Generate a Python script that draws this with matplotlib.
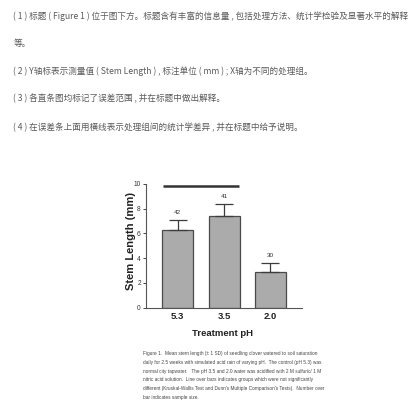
import matplotlib
matplotlib.use("Agg")
import matplotlib.pyplot as plt
from matplotlib import font_manager

# ---------------- data ----------------
groups = ["5.3", "3.5", "2.0"]
means = [6.26, 7.43, 2.90]
sds = [0.83, 0.95, 0.68]
sample_sizes = ["42", "41", "30"]
ns_line_level = 9.87           # y value of "not significantly different" line
ns_line_groups = (0, 1)        # groups joined by the line
yticks = [0, 2, 4, 6, 8, 10]

notes = [
    "( 1 ) 标题 ( Figure 1 ) 位于图下方。标题含有丰富的信息量 , 包括处理方法、统计学检验及显著水平的解释",
    "等。",
    "( 2 ) Y轴标表示测量值 ( Stem Length ) , 标注单位 ( mm ) ; X轴为不同的处理组。",
    "( 3 ) 各直条图均标记了误差范围 , 并在标题中做出解释。",
    "( 4 ) 在误差条上面用横线表示处理组间的统计学差异 , 并在标题中给予说明。",
]
caption = [
    "Figure 1.  Mean stem length (± 1 SD) of seedling clover watered to soil saturation",
    "daily for 2.5 weeks with simulated acid rain of varying pH.  The control (pH 5.3) was",
    "normal city tapwater.   The pH 3.5 and 2.0 water was acidified with 2 M sulfuric/ 1 M",
    "nitric acid solution.  Line over bars indicates groups which were not significantly",
    "different (Kruskal-Wallis Test and Dunn's Multiple Comparison's Tests).  Number over",
    "bar indicates sample size.",
]

# ---------------- layout ----------------
W = H = 420
DPI = 100
fig = plt.figure(figsize=(W / DPI, H / DPI), dpi=DPI, facecolor="white")
renderer = fig.canvas.get_renderer()

avail = {f.name for f in font_manager.fontManager.ttflist}
narrow = "Liberation Sans Narrow" if "Liberation Sans Narrow" in avail else "Liberation Sans"
cjk = ["Noto Sans CJK SC", "DejaVu Sans"]


def px(x, y):
    return x / W, 1 - y / H


def fit_text(x, y, s, width_px, fs0=8, **kw):
    fx, fy = px(x, y)
    t = fig.text(fx, fy, s, fontsize=fs0, **kw)
    bb = t.get_window_extent(renderer)
    w = bb.height if kw.get("rotation", 0) == 90 else bb.width
    t.set_fontsize(fs0 * width_px / w)
    return t


# Chinese notes (one common size, fitted on the first line)
note_y = [16, 43.3, 70.7, 98.7, 127.7]
t0 = fit_text(13.5, note_y[0], notes[0], 396, fs0=7, family=cjk, color="#5a5a5a", va="center")
nfs = t0.get_fontsize()
for s, y in zip(notes[1:], note_y[1:]):
    fx, fy = px(13.5, y)
    fig.text(fx, fy, s, fontsize=nfs, family=cjk, color="#5a5a5a", va="center")

# axes
left, right, bottom, top = 146, 302, 307.5, 184
ax = fig.add_axes([left / W, 1 - bottom / H, (right - left) / W, (bottom - top) / H])
x = list(range(len(groups)))
ax.bar(x, means, width=0.67, color="#ababab", edgecolor="#4a4a4a", linewidth=0.9, zorder=2)
ax.errorbar(x, means, yerr=[[0] * len(sds), sds], fmt="none", ecolor="#3c3c3c",
            elinewidth=0.9, capsize=6.3, capthick=0.9, zorder=3)
for xi, m, s, n in zip(x, means, sds, sample_sizes):
    ax.annotate(n, (xi, m + s), xytext=(0, 3.5), textcoords="offset points",
                ha="center", va="bottom", fontsize=4.6, family=narrow, color="#333")
g0, g1 = ns_line_groups
ax.plot([g0 - 0.325, g1 + 0.325], [ns_line_level] * 2, color="#333", lw=1.8,
        solid_capstyle="butt", clip_on=False, zorder=3)
ax.set_xlim(-0.683, 2.679)
ax.set_ylim(0, 10)
ax.set_yticks(yticks)
ax.set_yticklabels([str(v) for v in yticks], fontsize=4.8, family=narrow, color="#333")
ax.set_xticks(x)
ax.set_xticklabels(groups, fontsize=6.8, family=narrow, fontweight="bold", color="#222")
ax.tick_params(axis="y", length=2.5, width=0.7, pad=1.2, color="#444")
ax.tick_params(axis="x", length=0, pad=3.5)
for sp in ["top", "right"]:
    ax.spines[sp].set_visible(False)
for sp in ["left", "bottom"]:
    ax.spines[sp].set_color("#555")
    ax.spines[sp].set_linewidth(0.8)

# axis titles
fx, fy = px(222.7, 333.5)
fig.text(fx, fy, "Treatment pH", fontsize=6.8, family=narrow, fontweight="bold",
         color="#222", ha="center", va="center")
fit_text(130.7, 241, "Stem Length (mm)", 98, fs0=8, family="Liberation Sans",
         fontweight="bold", color="#222", ha="center", va="center", rotation=90)

# caption
cap_y = [353.8, 362.4, 371.0, 379.6, 388.3, 397.0]
t = fit_text(143, cap_y[1], caption[1], 173, fs0=4, family=narrow, color="#444", va="center")
cfs = t.get_fontsize()
for i, (s, y) in enumerate(zip(caption, cap_y)):
    if i == 1:
        continue
    fx, fy = px(143, y)
    fig.text(fx, fy, s, fontsize=cfs, family=narrow, color="#444", va="center")

fig.savefig("out.png", dpi=DPI, facecolor="white")
